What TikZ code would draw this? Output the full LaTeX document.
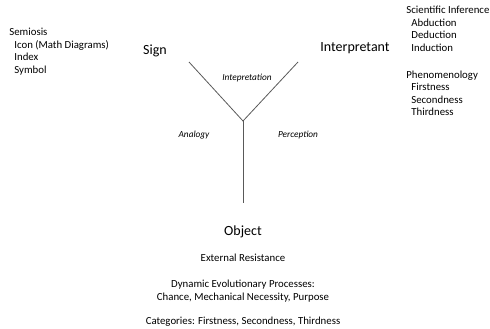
\documentclass[tikz,border=0pt]{standalone}
\usepackage{fontspec}
\setmainfont{Carlito}
\usepackage{tikz}

\begin{document}
\begin{tikzpicture}[x=1pt,y=-1pt,line width=0.8pt,
  big/.style={font=\fontsize{14}{16}\selectfont},
  lst/.style={anchor=base west,inner sep=0pt,font=\fontsize{10.8}{12}\selectfont},
  mid/.style={anchor=base,inner sep=0pt,font=\fontsize{10.8}{12}\selectfont},
  lab/.style={inner sep=0pt,font=\fontsize{9.3}{10}\itshape}]
\useasboundingbox (0,0) rectangle (490,329);
\coordinate (j) at (243,121);
\coordinate (s) at (189,62);
\coordinate (i) at (298,62);
\coordinate (o) at (243,203);
\draw[black!65] (s) -- (j) -- (i);
\draw[black!65] (j) -- (o);
\node[big] (sign) at (155,51) {Sign};
\node[big] (interp) at (355,48) {Interpretant};
\node[big] (obj) at (243,232) {Object};
\node[lab] (l1) at (247,78) {Intepretation};
\node[lab] (l2) at (194,135) {Analogy};
\node[lab] (l3) at (298,135) {Perception};
% left list
\node[lst] (sem) at (9,36) {Semiosis};
\foreach \t [count=\k] in {Icon (Math Diagrams),Index,Symbol}{\node[lst] (sem\k) at (14,36+12.5*\k) {\t};};
% right lists
\node[lst] (sci) at (406,14) {Scientific Inference};
\foreach \t [count=\k] in {Abduction,Deduction,Induction}{\node[lst] (sci\k) at (411,14+12.5*\k) {\t};};
\node[lst] (phe) at (406,78) {Phenomenology};
\foreach \t [count=\k] in {Firstness,Secondness,Thirdness}{\node[lst] (phe\k) at (411,78+12.5*\k) {\t};};
% below object
\node[mid] (ext) at (243,261) {External Resistance};
\node[mid] (dyn) at (243,287) {Dynamic Evolutionary Processes:};
\node[mid] (dyn2) at (243,300) {Chance, Mechanical Necessity, Purpose};
\node[mid] (cat) at (243,324) {Categories: Firstness, Secondness, Thirdness};
\end{tikzpicture}
\end{document}
